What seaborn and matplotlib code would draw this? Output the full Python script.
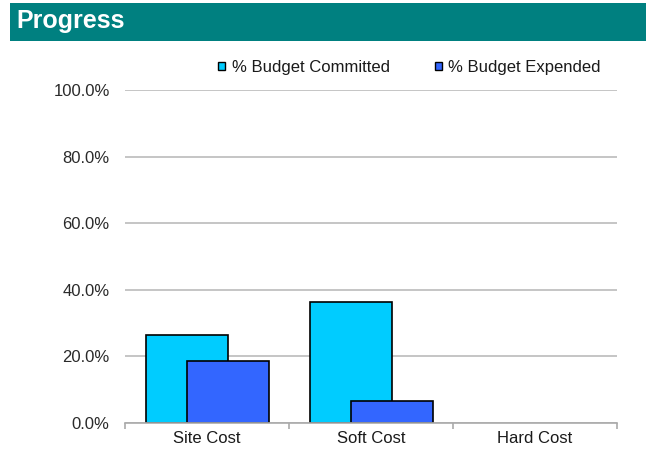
import matplotlib
matplotlib.use("Agg")
import matplotlib.pyplot as plt
from matplotlib.patches import Rectangle
from matplotlib.ticker import FuncFormatter, FixedLocator
import seaborn as sns
import pandas as pd

categories = ["Site Cost", "Soft Cost", "Hard Cost"]
committed = [26.4, 36.3, 0.0]
expended = [18.6, 6.6, 0.0]
series_names = ["% Budget Committed", "% Budget Expended"]
colors = ["#00CCFF", "#3366FF"]
y_ticks = [0, 20, 40, 60, 80, 100]

df = pd.DataFrame({
    "category": categories * 2,
    "value": committed + expended,
    "series": [series_names[0]] * 3 + [series_names[1]] * 3,
})

sns.set_theme(style="white")
plt.rcParams["font.family"] = ["Liberation Sans", "DejaVu Sans"]

fig = plt.figure(figsize=(6.56, 4.5), dpi=100)
ax = fig.add_axes([125/656, 1 - 423/450, 492/656, 333/450])

sns.barplot(data=df, x="category", y="value", hue="series", order=categories,
            hue_order=series_names, palette=colors, width=0.5, gap=-1.0,
            edgecolor="black", linewidth=1.2, saturation=1, ax=ax, zorder=3)
for cont in ax.containers:
    for bar in cont:
        if bar.get_height() == 0:
            bar.set_visible(False)

ax.set_ylim(0, 100)
ax.set_xlim(-0.5, 2.5)
ax.set_yticks(y_ticks)
ax.yaxis.set_major_formatter(FuncFormatter(lambda v, p: f"{v:.1f}%"))
ax.yaxis.grid(True, color="#BBBBBB", linewidth=1.2, zorder=0)
ax.set_axisbelow(True)
ax.set_xlabel("")
ax.set_ylabel("")
for s in ["top", "right", "left"]:
    ax.spines[s].set_visible(False)
ax.spines["bottom"].set_color("#AAAAAA")
ax.spines["bottom"].set_linewidth(1.2)
ax.spines["bottom"].set_zorder(4)
ax.tick_params(axis="y", length=0, pad=11, labelsize=12, labelcolor="#2a2a2a")
ax.tick_params(axis="x", which="major", length=0, pad=6, labelsize=12, labelcolor="#1a1a1a")
ax.xaxis.set_minor_locator(FixedLocator([-0.5, 0.5, 1.5, 2.5]))
ax.tick_params(axis="x", which="minor", length=4, width=1.2, color="#AAAAAA", direction="out", bottom=True)

leg = ax.legend(loc="lower center", bbox_to_anchor=(0.578, 1.0), ncol=2, frameon=False,
                fontsize=12, handlelength=0.42, handleheight=0.42, handletextpad=0.4,
                columnspacing=2.7, borderaxespad=0.5)
for h in leg.legend_handles:
    h.set_edgecolor("black")
    h.set_linewidth(1.0)
    h.set_visible(True)
for t in leg.get_texts():
    t.set_color("#1a1a1a")

# Title banner
fig.patches.append(Rectangle((10/656, 1 - 41/450), 636/656, 38/450, transform=fig.transFigure,
                             facecolor="#008080", edgecolor="none", zorder=0))
fig.text(16/656, 1 - 21/450, "Progress", color="white", fontsize=18, fontweight="bold",
         va="center", ha="left")

fig.savefig("out.png", dpi=100)
